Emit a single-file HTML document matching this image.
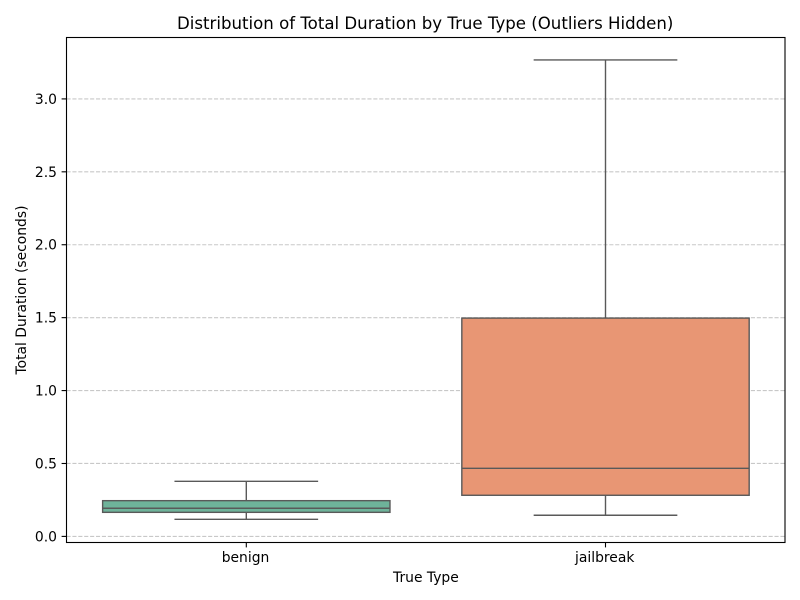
<!DOCTYPE html>
<html lang="en">
<head>
<meta charset="utf-8">
<title>Distribution of Total Duration by True Type</title>
<style>
  html, body { margin: 0; padding: 0; background: #fff; }
  #chart { display: block; width: 800px; height: 600px; }
  text { font-family: "DejaVu Sans", sans-serif; fill: #000; }
</style>
</head>
<body>
<svg id="chart" xmlns="http://www.w3.org/2000/svg" width="800" height="600" viewBox="0 0 800 600">
  <rect x="0" y="0" width="800" height="600" fill="#ffffff"></rect>
  <g id="grid"></g>
  <g id="boxes"></g>
  <rect x="66.5" y="37.5" width="718.5" height="505" fill="none" stroke="#000" stroke-width="1.1"></rect>
  <g id="ticks"></g>
  <text x="425.2" y="29" font-size="16.6" text-anchor="middle">Distribution of Total Duration by True Type (Outliers Hidden)</text>
  <text x="425.9" y="582" font-size="13.89" text-anchor="middle">True Type</text>
  <text transform="translate(26,290) rotate(-90)" font-size="13.89" text-anchor="middle">Total Duration (seconds)</text>
</svg>
<script>
const categories = ['benign', 'jailbreak'];
const whiskerLow = [0.117, 0.145];
const quartile1 = [0.165, 0.282];
const medians = [0.193, 0.467];
const quartile3 = [0.245, 1.497];
const whiskerHigh = [0.378, 3.267];
const yTickLabels = ['0.0', '0.5', '1.0', '1.5', '2.0', '2.5', '3.0'];
const boxColors = ['#6eb39a', '#e89674'];

const NS = 'http://www.w3.org/2000/svg';
const LINE = '#595959';
const xAxis = function (i) { return 246.3 + i * 359.2; };
const yAxis = function (v) { return 536.4 - v * 145.83; };

function make(parent, tag, props) {
  const el = document.createElementNS(NS, tag);
  Object.keys(props).forEach(function (k) { el.setAttribute(k, props[k]); });
  parent.appendChild(el);
  return el;
}

const gridLayer = document.getElementById('grid');
const boxLayer = document.getElementById('boxes');
const tickLayer = document.getElementById('ticks');

yTickLabels.forEach(function (label) {
  const y = yAxis(parseFloat(label));
  const gridLine = make(gridLayer, 'line', { x1: 66.5, x2: 785, y1: y, y2: y, stroke: '#b0b0b0', 'stroke-opacity': 0.7, 'stroke-width': 1.1, 'stroke-dasharray': '4.1 1.8' });
  
  
  const tick = make(tickLayer, 'line', { x1: 61.6, x2: 66.5, y1: y, y2: y, stroke: '#000', 'stroke-width': 1.1 });
  
  
  const text = make(tickLayer, 'text', { x: 57, y: y + 5, 'text-anchor': 'end', 'font-size': 13.89 });
  
  
  text.textContent = label;
});

categories.forEach(function (name, i) {
  const cx = xAxis(i);
  const halfBox = 0.4 * 359.2;
  const halfCap = 0.2 * 359.2;
  const yLow = yAxis(whiskerLow[i]);
  const yQ1 = yAxis(quartile1[i]);
  const yMed = yAxis(medians[i]);
  const yQ3 = yAxis(quartile3[i]);
  const yHigh = yAxis(whiskerHigh[i]);
  const common = { stroke: LINE, 'stroke-width': 1.4 };

  const lowerWhisker = make(boxLayer, 'line', Object.assign({ x1: cx, x2: cx, y1: yQ1, y2: yLow }, common));
  
  

  const upperWhisker = make(boxLayer, 'line', Object.assign({ x1: cx, x2: cx, y1: yQ3, y2: yHigh }, common));
  
  

  const lowerCap = make(boxLayer, 'line', Object.assign({ x1: cx - halfCap, x2: cx + halfCap, y1: yLow, y2: yLow }, common));
  
  

  const upperCap = make(boxLayer, 'line', Object.assign({ x1: cx - halfCap, x2: cx + halfCap, y1: yHigh, y2: yHigh }, common));
  
  

  const box = make(boxLayer, 'rect', Object.assign({ x: cx - halfBox, y: yQ3, width: 2 * halfBox, height: yQ1 - yQ3, fill: boxColors[i] }, common));
  
  

  const median = make(boxLayer, 'line', Object.assign({ x1: cx - halfBox, x2: cx + halfBox, y1: yMed, y2: yMed }, common));
  
  

  const tick = make(tickLayer, 'line', { x1: cx, x2: cx, y1: 542.5, y2: 547.4, stroke: '#000', 'stroke-width': 1.1 });
  
  

  const text = make(tickLayer, 'text', { x: cx - 0.8, y: 562, 'text-anchor': 'middle', 'font-size': 13.89 });
  
  
  text.textContent = name;
});
</script>
</body>
</html>
